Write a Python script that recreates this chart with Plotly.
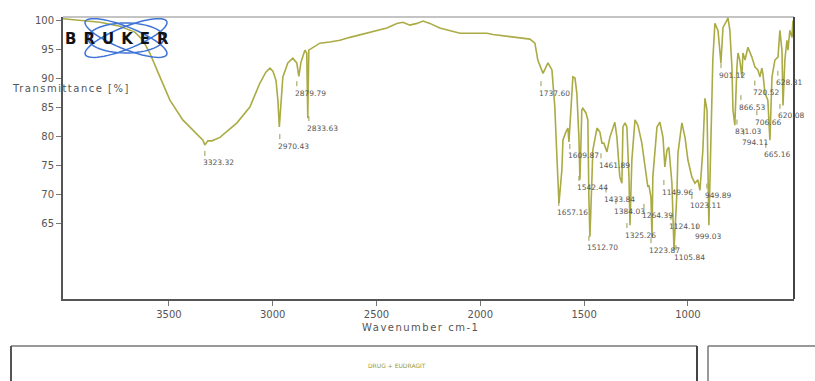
import plotly.graph_objects as go
import numpy as np

# ---------------- data ----------------
wavenumber = [4010, 3929, 3832, 3736, 3664, 3625, 3592, 3543, 3495, 3433, 3399, 3365, 3336, 3327,
              3312, 3293, 3254, 3172, 3110, 3062, 3033, 3013, 2999, 2984, 2975, 2968, 2960, 2951,
              2927, 2903, 2884, 2874, 2864, 2845, 2836, 2831, 2826, 2773, 2725, 2676, 2628, 2580,
              2498, 2450, 2402, 2373, 2339, 2305, 2276, 2243, 2195, 2146, 2098, 2036, 1968, 1939,
              1872, 1809, 1761, 1737, 1723, 1698, 1674, 1655, 1641, 1631, 1621, 1607, 1602, 1588,
              1578, 1573, 1559, 1554, 1544, 1535, 1525, 1520, 1511, 1506, 1491, 1482, 1477, 1472,
              1462, 1458, 1438, 1424, 1414, 1405, 1390, 1376, 1352, 1342, 1328, 1318, 1313, 1303,
              1294, 1284, 1279, 1270, 1255, 1241, 1222, 1207, 1197, 1193, 1188, 1178, 1173, 1169,
              1149, 1135, 1120, 1111, 1101, 1092, 1077, 1067, 1053, 1048, 1029, 1014, 1000, 981,
              966, 952, 942, 928, 918, 908, 899, 889, 880, 870, 855, 841, 831, 812, 807, 798,
              788, 783, 774, 764, 759, 750, 740, 735, 725, 711, 692, 677, 663, 653, 644, 639,
              629, 615, 605, 595, 581, 566, 557, 547, 542, 533, 523, 518, 509, 499, 494, 490]
transmittance = [100.3, 100.0, 99.7, 99.0, 98.0, 96.6, 94.4, 90.3, 86.3, 82.9, 81.7, 80.6, 79.4, 78.6,
                 79.3, 79.3, 79.9, 82.4, 85.1, 89.2, 91.1, 91.8, 91.3, 89.7, 86.3, 81.7, 86.3, 90.3,
                 92.7, 93.5, 92.7, 90.4, 92.8, 94.9, 94.4, 83.2, 94.9, 96.1, 96.3, 96.6, 97.1, 97.5,
                 98.2, 98.7, 99.5, 99.7, 99.2, 99.5, 99.9, 99.5, 98.7, 98.2, 97.8, 97.8, 97.8, 97.6,
                 97.3, 97.1, 96.8, 96.1, 93.2, 90.9, 92.7, 91.5, 85.1, 76.5, 68.6, 74.3, 79.4, 80.8,
                 81.5, 79.1, 87.5, 90.3, 90.1, 87.5, 79.9, 72.6, 84.6, 84.9, 84.1, 82.9, 69.6, 62.8,
                 73.1, 77.7, 81.5, 80.8, 78.9, 78.9, 77.4, 79.9, 82.5, 79.9, 73.1, 72.0, 81.7, 82.4,
                 81.7, 73.1, 64.8, 76.0, 82.9, 82.0, 78.9, 74.8, 72.0, 71.4, 71.7, 69.6, 62.6, 73.1,
                 81.7, 82.5, 79.9, 74.8, 77.7, 78.2, 72.0, 60.5, 70.3, 77.2, 82.4, 79.9, 76.0, 73.1,
                 72.0, 72.6, 70.8, 77.7, 86.6, 84.6, 64.8, 77.7, 93.2, 99.5, 98.3, 92.7, 98.8, 100.0, 100.5, 98.3,
                 92.0, 84.6, 82.0, 92.0, 94.4, 93.2, 90.3, 94.4, 93.2, 95.4, 93.7, 92.0, 91.5, 90.3, 91.8, 90.9,
                 87.5, 86.3, 79.4, 90.3, 93.2, 93.7, 98.3, 94.9, 85.4, 93.2, 96.6, 94.9, 98.3, 97.1, 100.0, 96.6]

peak_text = ["3323.32", "2970.43", "2879.79", "2833.63", "1737.60", "1609.87", "1657.16",
             "1542.44", "1512.70", "1461.89", "1433.84", "1384.03", "1325.26", "1264.39",
             "1223.87", "1149.96", "1124.10", "1105.84", "1023.11", "999.03", "949.89",
             "901.12", "866.53", "831.03", "794.11", "720.52", "706.66", "665.16", "628.81", "620.08"]
peak_label_wn = [3346, 2985, 2903, 2845, 1727, 1588, 1641, 1544, 1496, 1438, 1414, 1366, 1313, 1231,
                 1197, 1135, 1101, 1077, 1000, 976, 928, 860, 764, 783, 750, 697, 687, 644, 586, 576]
peak_label_t = [75.5, 78.4, 87.5, 81.5, 87.5, 76.7, 66.9, 71.2, 60.9, 75.1, 69.2, 67.2, 63.1, 66.4,
                60.5, 70.5, 64.5, 59.3, 68.1, 62.9, 69.9, 90.6, 85.1, 80.9, 79.1, 87.6, 82.5, 76.9, 89.3, 83.6]

x_ticks = [3500, 3000, 2500, 2000, 1500, 1000]
y_ticks = [65, 70, 75, 80, 85, 90, 95, 100]
x_range = [4010, 489]
y_range = [52.1, 100.6]

# ---------------- layout geometry ----------------
W, H = 815, 381
ML, MR, MT, MB = 63, 21, 17, 82
PW, PH = W - ML - MR, H - MT - MB

def px2paper(px, py):
    return (px - ML) / PW, (H - MB - py) / PH

wn_per_px = (x_range[0] - x_range[1]) / PW
t_per_px = (y_range[1] - y_range[0]) / PH

fig = go.Figure()

fig.add_trace(go.Scatter(x=wavenumber, y=transmittance, mode="lines",
                         line=dict(color="#abab45", width=1.6), hoverinfo="skip"))

# small tick marks above peak labels
tx, ty = [], []
for w, t in zip(peak_label_wn, peak_label_t):
    xx = w - 4 * wn_per_px
    tx += [xx, xx, None]
    ty += [t + 7 * t_per_px, t + 12 * t_per_px, None]
fig.add_trace(go.Scatter(x=tx, y=ty, mode="lines", line=dict(color="#9a9a50", width=1),
                         hoverinfo="skip"))

annotations = []
for s, w, t in zip(peak_text, peak_label_wn, peak_label_t):
    annotations.append(dict(x=w, y=t, xref="x", yref="y", text=s, showarrow=False,
                            xanchor="left", yanchor="middle",
                            font=dict(family="DejaVu Sans", size=7.5, color="#555555")))

# axis titles
ax_, ay_ = px2paper(420, 327)
annotations.append(dict(x=ax_, y=ay_, xref="paper", yref="paper",
                        text='<span style="letter-spacing:1.5px">Wavenumber cm-1</span>',
                        showarrow=False, xanchor="center", yanchor="middle",
                        font=dict(family="DejaVu Sans", size=10, color="#555555")))
ax_, ay_ = px2paper(10, 88)
annotations.append(dict(x=ax_, y=ay_, xref="paper", yref="paper",
                        text='<span style="letter-spacing:1.5px">Transmittance [%]</span>',
                        showarrow=False, xanchor="left", yanchor="middle",
                        font=dict(family="DejaVu Sans", size=10, color="#555555")))

# Bruker logo
shapes = []
def ellipse_path(cx, cy, a, b, ang):
    th = np.linspace(0, 2 * np.pi, 60)
    c, s = np.cos(np.radians(ang)), np.sin(np.radians(ang))
    pts = []
    for t in th:
        ex, ey = a * np.cos(t), b * np.sin(t)
        px = cx + ex * c - ey * s
        py = cy + ex * s + ey * c
        pts.append(px2paper(px, py))
    return "M " + " L ".join(f"{p[0]:.4f},{p[1]:.4f}" for p in pts) + " Z"

for a, b, ang in [(44, 11, 22), (44, 11, -22), (38, 15, 0)]:
    shapes.append(dict(type="path", path=ellipse_path(126, 38, a, b, ang), xref="paper", yref="paper",
                       line=dict(color="#3f74d6", width=1.5)))

bx, by = px2paper(63, 39)
annotations.append(dict(x=bx, y=by, xref="paper", yref="paper",
                        text='<b><span style="letter-spacing:7px">BRUKER</span></b>',
                        showarrow=False, xanchor="left", yanchor="middle",
                        font=dict(family="DejaVu Sans", size=15, color="#111111")))

# frame: top (light) and right (dark)
shapes.append(dict(type="line", xref="paper", yref="paper", x0=0, x1=1, y0=1, y1=1,
                   line=dict(color="#b0b0b0", width=1.5)))
shapes.append(dict(type="line", xref="paper", yref="paper", x0=1, x1=1, y0=0, y1=1,
                   line=dict(color="#444444", width=2)))

# lower panels (cut off)
x0, y0 = px2paper(11, 346)
x1, y1 = px2paper(697, 400)
shapes.append(dict(type="line", xref="paper", yref="paper", x0=x0, x1=x1, y0=y0, y1=y0,
                   line=dict(color="#999999", width=2)))
shapes.append(dict(type="line", xref="paper", yref="paper", x0=x0, x1=x0, y0=y0, y1=y1,
                   line=dict(color="#555555", width=2)))
shapes.append(dict(type="line", xref="paper", yref="paper", x0=x1, x1=x1, y0=y0, y1=y1,
                   line=dict(color="#444444", width=2)))
x2, _ = px2paper(708, 346)
x3, _ = px2paper(830, 346)
shapes.append(dict(type="line", xref="paper", yref="paper", x0=x2, x1=x3, y0=y0, y1=y0,
                   line=dict(color="#999999", width=2)))
shapes.append(dict(type="line", xref="paper", yref="paper", x0=x2, x1=x2, y0=y0, y1=y1,
                   line=dict(color="#777777", width=1.5)))

dx, dy = px2paper(397, 365)
annotations.append(dict(x=dx, y=dy, xref="paper", yref="paper", text="DRUG + EUDRAGIT",
                        showarrow=False, xanchor="center", yanchor="middle",
                        font=dict(family="DejaVu Sans", size=6, color="#9a9a30")))

fig.update_layout(
    width=W, height=H, autosize=False,
    margin=dict(l=ML, r=MR, t=MT, b=MB),
    paper_bgcolor="white", plot_bgcolor="white",
    showlegend=False,
    annotations=annotations, shapes=shapes,
    xaxis=dict(range=x_range, tickvals=x_ticks, ticktext=[str(v) for v in x_ticks],
               showgrid=False, zeroline=False, showline=True, linecolor="#555555", linewidth=2,
               ticks="outside", ticklen=5, tickcolor="#777777",
               tickfont=dict(family="DejaVu Sans", size=10, color="#555555")),
    yaxis=dict(range=y_range, tickvals=y_ticks, ticktext=[str(v) for v in y_ticks],
               showgrid=False, zeroline=False, showline=True, linecolor="#555555", linewidth=2,
               ticks="outside", ticklen=5, tickcolor="#777777",
               tickfont=dict(family="DejaVu Sans", size=10, color="#555555")),
)

fig.write_html("out.html")
